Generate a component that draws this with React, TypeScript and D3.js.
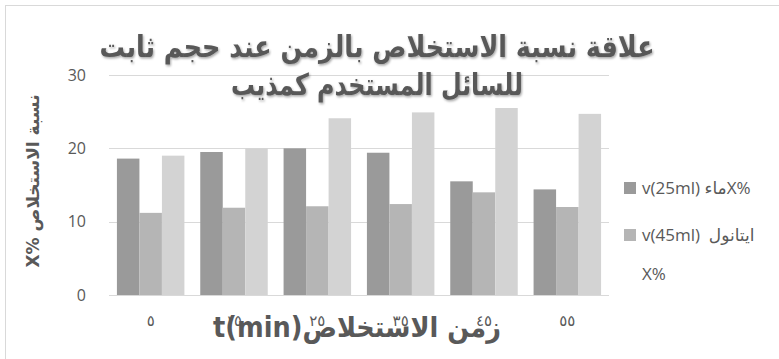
import React from "react";
import * as d3 from "d3";

// category labels (time in min, Arabic-Indic digits)
const categories = ["٥", "١٥", "٢٥", "٣٥", "٤٥", "٥٥"];
const seriesNames = ["water", "ethanol", "third"];
const water = [18.6, 19.5, 20.0, 19.4, 15.5, 14.4];
const ethanol = [11.2, 11.9, 12.1, 12.4, 14.0, 12.0];
const third = [19.0, 20.0, 24.1, 24.9, 25.5, 24.7];
const yTicks = [0, 10, 20, 30];
const colors = ["#9a9a9a", "#b5b5b5", "#d3d3d3"];

const W = 779;
const H = 359;
const margin = { left: 109, right: 170, top: 75, bottom: 64 };

const titleLines = ["علاقة نسبة الاستخلاص بالزمن عند حجم ثابت", "للسائل المستخدم كمذيب"];
const titleWidths = [555, 292];
const yTitle = "X% نسبة الاستخلاص";
const xTitle = "t(min)زمن الاستخلاص";

const textColor = "#595959";
const arabicFont = "'DejaVu Sans', Arial, sans-serif";
const latinFont = "'Open Sans', 'DejaVu Sans', sans-serif";

export default function App() {
  const rows = categories.map((c, i) => ({ c, values: [water[i], ethanol[i], third[i]] }));

  const x0 = d3
    .scaleBand<string>()
    .domain(categories)
    .range([margin.left, W - margin.right])
    .paddingInner(0.19)
    .paddingOuter(0.095);
  const x1 = d3.scaleBand<string>().domain(seriesNames).range([0, x0.bandwidth()]);
  const y = d3.scaleLinear().domain([0, 30]).range([H - margin.bottom, margin.top]);

  return (
    <svg
      width={W}
      height={H}
      style={{ position: "absolute", left: 0, top: 0, background: "#fff" }}
    >
      <defs>
        <filter id="shadow" x="-5%" y="-20%" width="110%" height="140%">
          <feDropShadow dx="1" dy="1.5" stdDeviation="1" floodColor="#000" floodOpacity="0.35" />
        </filter>
      </defs>
      <rect x={5.5} y={5.5} width={900} height={500} fill="#fff" stroke="#d9d9d9" />

      {/* grid */}
      {yTicks.map((t) => (
        <line
          key={t}
          x1={margin.left}
          x2={W - margin.right}
          y1={Math.round(y(t)) + 0.5}
          y2={Math.round(y(t)) + 0.5}
          stroke="#d9d9d9"
          strokeWidth={1}
        />
      ))}
      {yTicks.map((t) => (
        <text
          key={"l" + t}
          x={86}
          y={y(t)}
          dy="0.35em"
          textAnchor="end"
          fontFamily={latinFont}
          fontSize={16}
          fill={textColor}
        >
          {t}
        </text>
      ))}

      {/* bars */}
      {rows.map((r) => (
        <g key={r.c} transform={`translate(${x0(r.c)},0)`}>
          {r.values.map((v, j) => (
            <rect
              key={j}
              x={x1(seriesNames[j])}
              y={y(v)}
              width={x1.bandwidth()}
              height={y(0) - y(v)}
              fill={colors[j]}
            />
          ))}
        </g>
      ))}

      {/* category labels */}
      {categories.map((c) => (
        <text
          key={"c" + c}
          x={(x0(c) as number) + x0.bandwidth() / 2}
          y={326}
          textAnchor="middle"
          fontFamily={arabicFont}
          fontSize={15}
          fill={textColor}
        >
          {c}
        </text>
      ))}

      {/* axis titles */}
      <text
        x={213}
        y={337}
        textLength={288}
        lengthAdjust="spacingAndGlyphs"
        fontFamily={arabicFont}
        fontWeight="bold"
        fontSize={28}
        fill={textColor}
        direction="ltr"
      >
        {xTitle}
      </text>
      <text
        transform={`translate(39,181) rotate(-90)`}
        textAnchor="middle"
        fontFamily={arabicFont}
        fontWeight="bold"
        fontSize={17}
        fill={textColor}
      >
        {yTitle}
      </text>

      {/* title */}
      <g filter="url(#shadow)">
        {titleLines.map((t, i) => (
          <text
            key={i}
            x={377 - titleWidths[i] / 2}
            y={57 + i * 38}
            textLength={titleWidths[i]}
            lengthAdjust="spacingAndGlyphs"
            fontFamily={arabicFont}
            fontWeight="bold"
            fontSize={30}
            fill={textColor}
          >
            {t}
          </text>
        ))}
      </g>

      {/* legend */}
      <rect x={624} y={182} width={12} height={12} fill={colors[0]} />
      <text x={642} y={194} fontFamily={latinFont} fontSize={17} fill={textColor}>
        v(25ml) ماءX%
      </text>
      <rect x={624} y={229} width={12} height={12} fill={colors[1]} />
      <text x={642} y={241} fontFamily={latinFont} fontSize={17} fill={textColor}>
        <tspan x={642}>{"v(45ml)\u00a0\u00a0ايتانول"}</tspan>
        <tspan x={642} dy={39}>X%</tspan>
      </text>
    </svg>
  );
}
